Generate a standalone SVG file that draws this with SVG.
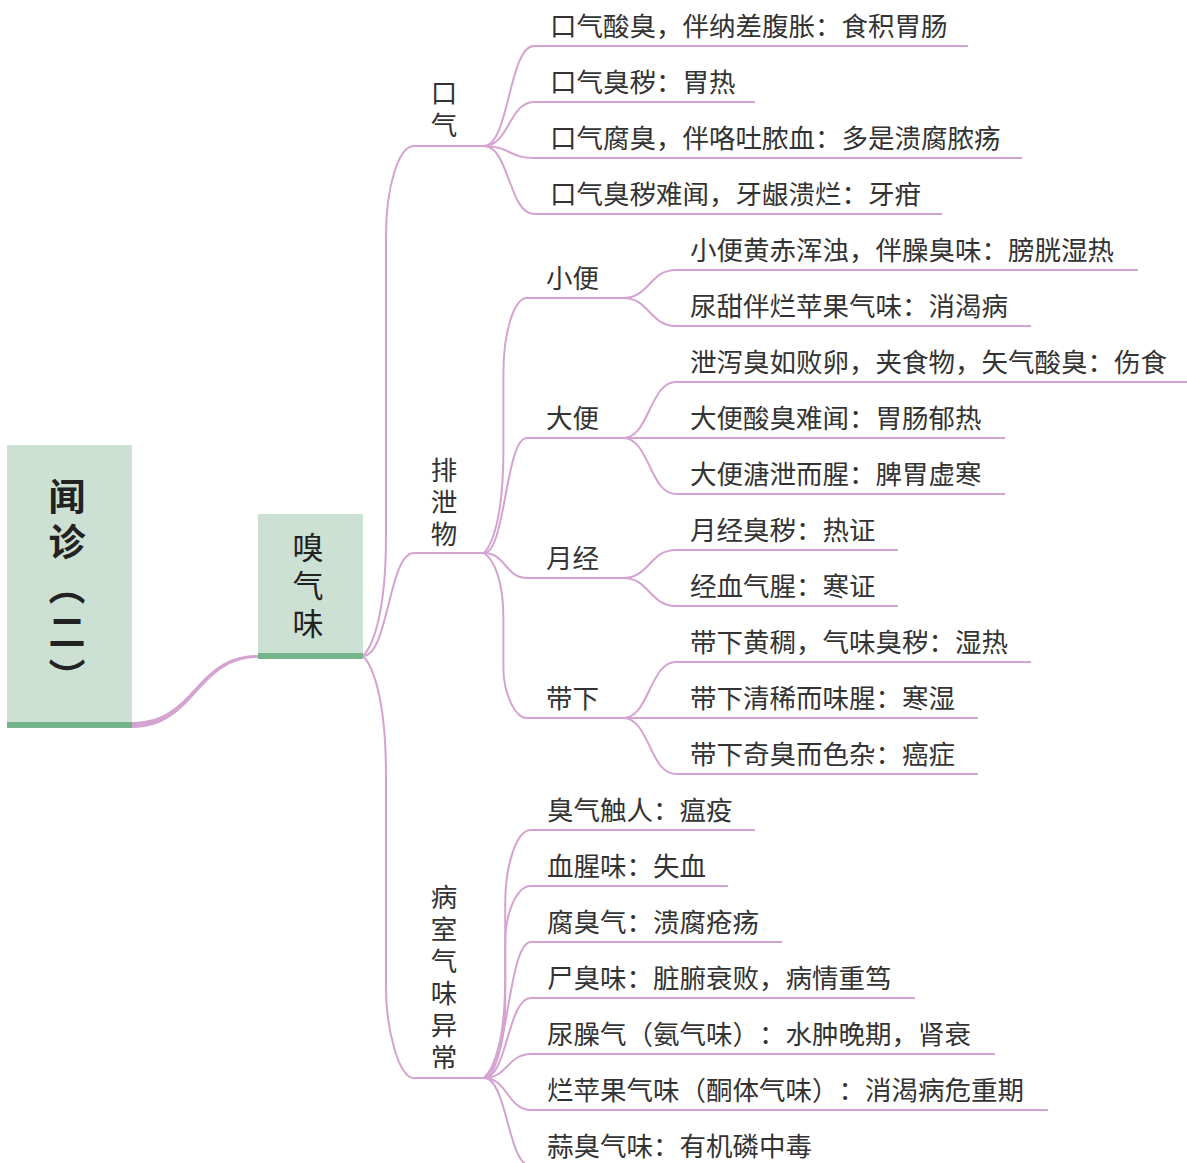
<svg xmlns="http://www.w3.org/2000/svg" width="1187" height="1163" viewBox="0 0 1187 1163">
<style>
.ln{fill:none;stroke:#d5a3d0;stroke-width:2}
.t{font-family:"Noto Sans CJK SC","Noto Sans",sans-serif;font-size:26.5px;fill:#333;text-spacing-trim:space-all}
.v{font-family:"Noto Sans CJK SC","Noto Sans",sans-serif;font-size:26.5px;fill:#333;writing-mode:vertical-rl;letter-spacing:5.5px}
.box{fill:#cce0d4}
.bar{fill:#74b58c}
.r{font-family:"Noto Sans CJK SC","Noto Sans",sans-serif;font-size:37px;font-weight:bold;fill:#222;writing-mode:vertical-rl;letter-spacing:8px;text-spacing-trim:space-all}
.m{font-family:"Noto Sans CJK SC","Noto Sans",sans-serif;font-size:31px;font-weight:normal;fill:#222;writing-mode:vertical-rl;letter-spacing:7px}
</style>
<rect width="1187" height="1163" fill="#ffffff"/>
<g id="connectors">
<path d="M132,722 C196,722 194,655 258,655 L258,658 C197,658 196,728 132,728 Z" fill="#d5a3d0"/>
<path class="ln" d="M363,656 C374.5,644 386,608 386,536 L386,236 C386,186.5 398.6,146 414,146"/>
<path class="ln" d="M363,656 C388.5,656 388.5,553 414,553"/>
<path class="ln" d="M363,656 C374.5,668 386,704 386,776 L386,988 C386,1028.5 398.6,1078 414,1078"/>
<path class="ln" d="M484,146 C509,146 509,46 534,46"/>
<path class="ln" d="M484,146 C509,146 509,102 534,102"/>
<path class="ln" d="M484,146 C509,146 509,158 534,158"/>
<path class="ln" d="M484,146 C509,146 509,214 534,214"/>
<path class="ln" d="M484,553 C493.7,542.8 503.4,512.2 503.4,451 L503.4,373.7 C503.4,332 514,298 527,298"/>
<path class="ln" d="M484,553 C505.5,553 505.5,438 527,438"/>
<path class="ln" d="M484,553 C505.5,553 505.5,578 527,578"/>
<path class="ln" d="M484,553 C493.7,559.6 503.4,579.4 503.4,619 L503.4,668.5 C503.4,690.7 514,718 527,718"/>
<path class="ln" d="M623,298 C649.5,298 649.5,270 676,270"/>
<path class="ln" d="M623,298 C649.5,298 649.5,326 676,326"/>
<path class="ln" d="M623,438 C649.5,438 649.5,382 676,382"/>
<path class="ln" d="M623,438 L676,438"/>
<path class="ln" d="M623,438 C649.5,438 649.5,494 676,494"/>
<path class="ln" d="M623,578 C649.5,578 649.5,550 676,550"/>
<path class="ln" d="M623,578 C649.5,578 649.5,606 676,606"/>
<path class="ln" d="M623,718 C649.5,718 649.5,662 676,662"/>
<path class="ln" d="M623,718 L676,718"/>
<path class="ln" d="M623,718 C649.5,718 649.5,774 676,774"/>
<path class="ln" d="M484,1078 C494.6,1068.1 505.2,1038.3 505.2,978.8 L505.2,904.4 C505.2,863.5 516.8,830 531,830"/>
<path class="ln" d="M484,1078 C494.6,1070.3 505.2,1047.3 505.2,1001.2 L505.2,943.6 C505.2,911.9 516.8,886 531,886"/>
<path class="ln" d="M484,1078 C507.5,1078 507.5,942 531,942"/>
<path class="ln" d="M484,1078 C507.5,1078 507.5,998 531,998"/>
<path class="ln" d="M484,1078 C507.5,1078 507.5,1054 531,1054"/>
<path class="ln" d="M484,1078 C507.5,1078 507.5,1110 531,1110"/>
<path class="ln" d="M484,1078 C507.5,1078 507.5,1166 531,1166"/>
</g>
<g id="root">
<rect class="box" x="7" y="445" width="125" height="283"/>
<rect class="bar" x="7" y="722" width="125" height="6"/>
<text class="r" x="67" y="478">闻诊（二）</text>
</g>
<g id="n-xiuqiwei">
<rect class="box" x="258" y="514" width="105" height="145"/>
<rect class="bar" x="258" y="653" width="105" height="6"/>
<text class="m" x="308" y="531.5">嗅气味</text>
</g>
<g id="n-kouqi">
<line class="ln" x1="414" y1="146" x2="484" y2="146"/>
<text class="v" x="444" y="79.75">口气</text>
</g>
<g id="n-paixiewu">
<line class="ln" x1="414" y1="553" x2="484" y2="553"/>
<text class="v" x="444" y="456.75">排泄物</text>
</g>
<g id="n-bingshi">
<line class="ln" x1="414" y1="1078" x2="484" y2="1078"/>
<text class="v" x="444" y="883.75">病室气味异常</text>
</g>
<g id="n-kq1"><line class="ln" x1="534" y1="46" x2="968" y2="46"/><text class="t" x="550" y="36">口气酸臭，伴纳差腹胀：食积胃肠</text></g>
<g id="n-kq2"><line class="ln" x1="534" y1="102" x2="755" y2="102"/><text class="t" x="550" y="92">口气臭秽：胃热</text></g>
<g id="n-kq3"><line class="ln" x1="534" y1="158" x2="1022" y2="158"/><text class="t" x="550" y="148">口气腐臭，伴咯吐脓血：多是溃腐脓疡</text></g>
<g id="n-kq4"><line class="ln" x1="534" y1="214" x2="942" y2="214"/><text class="t" x="550" y="204">口气臭秽难闻，牙龈溃烂：牙疳</text></g>
<g id="n-xiaobian"><line class="ln" x1="527" y1="298" x2="623" y2="298"/><text class="t" x="546" y="288">小便</text></g>
<g id="n-dabian"><line class="ln" x1="527" y1="438" x2="623" y2="438"/><text class="t" x="546" y="428">大便</text></g>
<g id="n-yuejing"><line class="ln" x1="527" y1="578" x2="623" y2="578"/><text class="t" x="546" y="568">月经</text></g>
<g id="n-daixia"><line class="ln" x1="527" y1="718" x2="623" y2="718"/><text class="t" x="546" y="708">带下</text></g>
<g id="n-xb1"><line class="ln" x1="676" y1="270" x2="1138" y2="270"/><text class="t" x="690" y="260">小便黄赤浑浊，伴臊臭味：膀胱湿热</text></g>
<g id="n-xb2"><line class="ln" x1="676" y1="326" x2="1031" y2="326"/><text class="t" x="690" y="316">尿甜伴烂苹果气味：消渴病</text></g>
<g id="n-db1"><line class="ln" x1="676" y1="382" x2="1187" y2="382"/><text class="t" x="690" y="372">泄泻臭如败卵，夹食物，矢气酸臭：伤食</text></g>
<g id="n-db2"><line class="ln" x1="676" y1="438" x2="1005" y2="438"/><text class="t" x="690" y="428">大便酸臭难闻：胃肠郁热</text></g>
<g id="n-db3"><line class="ln" x1="676" y1="494" x2="1005" y2="494"/><text class="t" x="690" y="484">大便溏泄而腥：脾胃虚寒</text></g>
<g id="n-yj1"><line class="ln" x1="676" y1="550" x2="898" y2="550"/><text class="t" x="690" y="540">月经臭秽：热证</text></g>
<g id="n-yj2"><line class="ln" x1="676" y1="606" x2="898" y2="606"/><text class="t" x="690" y="596">经血气腥：寒证</text></g>
<g id="n-dx1"><line class="ln" x1="676" y1="662" x2="1031" y2="662"/><text class="t" x="690" y="652">带下黄稠，气味臭秽：湿热</text></g>
<g id="n-dx2"><line class="ln" x1="676" y1="718" x2="978" y2="718"/><text class="t" x="690" y="708">带下清稀而味腥：寒湿</text></g>
<g id="n-dx3"><line class="ln" x1="676" y1="774" x2="978" y2="774"/><text class="t" x="690" y="764">带下奇臭而色杂：癌症</text></g>
<g id="n-bs1"><line class="ln" x1="531" y1="830" x2="755" y2="830"/><text class="t" x="547" y="820">臭气触人：瘟疫</text></g>
<g id="n-bs2"><line class="ln" x1="531" y1="886" x2="728" y2="886"/><text class="t" x="547" y="876">血腥味：失血</text></g>
<g id="n-bs3"><line class="ln" x1="531" y1="942" x2="782" y2="942"/><text class="t" x="547" y="932">腐臭气：溃腐疮疡</text></g>
<g id="n-bs4"><line class="ln" x1="531" y1="998" x2="915" y2="998"/><text class="t" x="547" y="988">尸臭味：脏腑衰败，病情重笃</text></g>
<g id="n-bs5"><line class="ln" x1="531" y1="1054" x2="995" y2="1054"/><text class="t" x="547" y="1044">尿臊气（氨气味）：水肿晚期，肾衰</text></g>
<g id="n-bs6"><line class="ln" x1="531" y1="1110" x2="1048" y2="1110"/><text class="t" x="547" y="1100">烂苹果气味（酮体气味）：消渴病危重期</text></g>
<g id="n-bs7"><line class="ln" x1="531" y1="1166" x2="836" y2="1166"/><text class="t" x="547" y="1156">蒜臭气味：有机磷中毒</text></g>
</svg>
